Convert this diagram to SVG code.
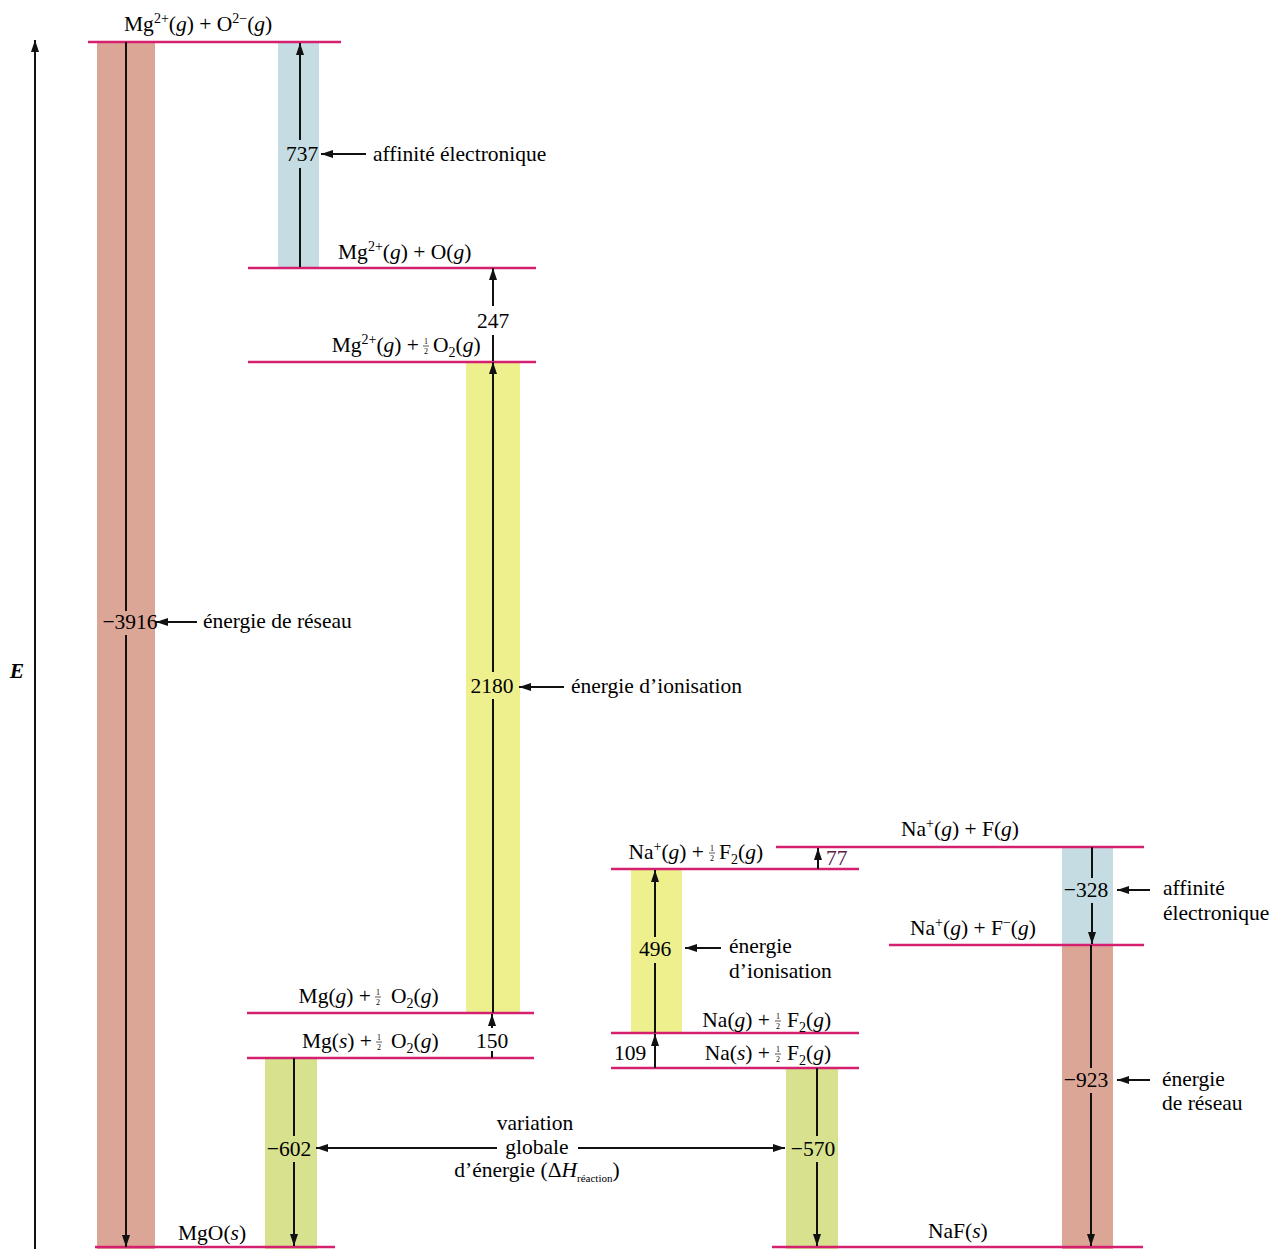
<svg xmlns="http://www.w3.org/2000/svg" width="1271" height="1249" viewBox="0 0 1271 1249">
<style>
text{font-family:"Liberation Serif","Times New Roman",serif;font-size:21.5px;fill:#000}
.it{font-style:italic}
.sup{font-size:14px}
.sub{font-size:14px}
.fr{font-size:8px;text-anchor:middle}
.lvl{stroke:#d4206f;stroke-width:2.5;fill:none}
.arr{stroke:#111;stroke-width:2;fill:none}
.bar-pink{fill:#dca696}
.bar-blue{fill:#c6dce3}
.bar-yel{fill:#eef08e}
.bar-grn{fill:#d7e18e}
.fb{stroke:#111;stroke-width:0.7}
</style>
<defs>
<marker id="ah" markerWidth="12" markerHeight="8" refX="12" refY="4" orient="auto" markerUnits="userSpaceOnUse"><path d="M0,0 L12,4 L0,8 z" fill="#111"/></marker>
</defs>

<!-- background bars -->
<g id="bars">
<rect class="bar-pink" x="97" y="42" width="58" height="1207"/>
<rect class="bar-blue" x="278" y="42" width="41" height="225"/>
<rect class="bar-yel" x="466" y="361" width="54" height="652"/>
<rect class="bar-grn" x="265" y="1058" width="52" height="191"/>
<rect class="bar-yel" x="631" y="869" width="51" height="164"/>
<rect class="bar-grn" x="786" y="1068" width="52" height="181"/>
<rect class="bar-blue" x="1062" y="847" width="51" height="98"/>
<rect class="bar-pink" x="1062" y="945" width="51" height="304"/>
</g>

<!-- energy axis -->
<g id="axis">
<line class="arr" x1="35" y1="1249" x2="35" y2="40" stroke-width="2.5" marker-end="url(#ah)"/>
<text x="17" y="678" text-anchor="middle" class="it" font-weight="bold">E</text>
</g>

<!-- levels -->
<g id="lvl-mg2-o2m">
<line class="lvl" x1="88" y1="42" x2="341" y2="42"/>
<text x="124" y="31">Mg<tspan class="sup" dy="-8">2+</tspan><tspan dy="8">(</tspan><tspan class="it">g</tspan>) + O<tspan class="sup" dy="-8">2−</tspan><tspan dy="8">(</tspan><tspan class="it">g</tspan>)</text>
</g>
<g id="lvl-mg2-o">
<line class="lvl" x1="248" y1="268" x2="536" y2="268"/>
<text x="338" y="259">Mg<tspan class="sup" dy="-8">2+</tspan><tspan dy="8">(</tspan><tspan class="it">g</tspan>) + O(<tspan class="it">g</tspan>)</text>
</g>
<g id="lvl-mg2-halfo2">
<line class="lvl" x1="248" y1="362" x2="536" y2="362"/>
<text x="419" y="352" text-anchor="end">Mg<tspan class="sup" dy="-8">2+</tspan><tspan dy="8">(</tspan><tspan class="it">g</tspan>) +</text>
<text class="fr" x="426" y="344">1</text><line class="fb" x1="423" y1="346" x2="429" y2="346"/><text class="fr" x="426" y="353.5">2</text>
<text x="433" y="352">O<tspan class="sub" dy="5">2</tspan><tspan dy="-5">(</tspan><tspan class="it">g</tspan>)</text>
</g>
<g id="lvl-mgg">
<line class="lvl" x1="247" y1="1013" x2="534" y2="1013"/>
<text x="371" y="1003" text-anchor="end">Mg(<tspan class="it">g</tspan>) +</text>
<text class="fr" x="378" y="995">1</text><line class="fb" x1="375" y1="997" x2="381" y2="997"/><text class="fr" x="378" y="1004.5">2</text>
<text x="391" y="1003">O<tspan class="sub" dy="5">2</tspan><tspan dy="-5">(</tspan><tspan class="it">g</tspan>)</text>
</g>
<g id="lvl-mgs">
<line class="lvl" x1="247" y1="1058" x2="534" y2="1058"/>
<text x="372" y="1048" text-anchor="end">Mg(<tspan class="it">s</tspan>) +</text>
<text class="fr" x="379" y="1040">1</text><line class="fb" x1="376" y1="1042" x2="382" y2="1042"/><text class="fr" x="379" y="1049.5">2</text>
<text x="391" y="1048">O<tspan class="sub" dy="5">2</tspan><tspan dy="-5">(</tspan><tspan class="it">g</tspan>)</text>
</g>
<g id="lvl-mgo">
<line class="lvl" x1="95" y1="1247" x2="335" y2="1247"/>
<text x="178" y="1240">MgO(<tspan class="it">s</tspan>)</text>
</g>
<g id="lvl-na-halff2">
<line class="lvl" x1="611" y1="869" x2="859" y2="869"/>
<text x="704" y="859" text-anchor="end">Na<tspan class="sup" dy="-8">+</tspan><tspan dy="8">(</tspan><tspan class="it">g</tspan>) +</text>
<text class="fr" x="712" y="851">1</text><line class="fb" x1="709" y1="853" x2="715" y2="853"/><text class="fr" x="712" y="860.5">2</text>
<text x="719" y="859">F<tspan class="sub" dy="5">2</tspan><tspan dy="-5">(</tspan><tspan class="it">g</tspan>)</text>
</g>
<g id="lvl-na-f">
<line class="lvl" x1="776" y1="847" x2="1144" y2="847"/>
<text x="901" y="836">Na<tspan class="sup" dy="-8">+</tspan><tspan dy="8">(</tspan><tspan class="it">g</tspan>) + F(<tspan class="it">g</tspan>)</text>
</g>
<g id="lvl-na-fm">
<line class="lvl" x1="889" y1="945" x2="1144" y2="945"/>
<text x="910" y="935">Na<tspan class="sup" dy="-8">+</tspan><tspan dy="8">(</tspan><tspan class="it">g</tspan>) + F<tspan class="sup" dy="-8">−</tspan><tspan dy="8">(</tspan><tspan class="it">g</tspan>)</text>
</g>
<g id="lvl-nag">
<line class="lvl" x1="611" y1="1033" x2="859" y2="1033"/>
<text x="770" y="1027" text-anchor="end">Na(<tspan class="it">g</tspan>) +</text>
<text class="fr" x="778" y="1019">1</text><line class="fb" x1="775" y1="1021" x2="781" y2="1021"/><text class="fr" x="778" y="1028.5">2</text>
<text x="787" y="1027">F<tspan class="sub" dy="5">2</tspan><tspan dy="-5">(</tspan><tspan class="it">g</tspan>)</text>
</g>
<g id="lvl-nas">
<line class="lvl" x1="611" y1="1068" x2="859" y2="1068"/>
<text x="770" y="1060" text-anchor="end">Na(<tspan class="it">s</tspan>) +</text>
<text class="fr" x="778" y="1052">1</text><line class="fb" x1="775" y1="1054" x2="781" y2="1054"/><text class="fr" x="778" y="1061.5">2</text>
<text x="787" y="1060">F<tspan class="sub" dy="5">2</tspan><tspan dy="-5">(</tspan><tspan class="it">g</tspan>)</text>
</g>
<g id="lvl-naf">
<line class="lvl" x1="772" y1="1247" x2="1143" y2="1247"/>
<text x="928" y="1238">NaF(<tspan class="it">s</tspan>)</text>
</g>

<!-- connectors -->
<g id="connectors">
<line class="arr" x1="126" y1="42" x2="126" y2="611"/>
<line class="arr" x1="126" y1="635" x2="126" y2="1247" marker-end="url(#ah)"/>
<line class="arr" x1="300" y1="267" x2="300" y2="168"/>
<line class="arr" x1="300" y1="140" x2="300" y2="43" marker-end="url(#ah)"/>
<line class="arr" x1="493" y1="306" x2="493" y2="268" marker-end="url(#ah)"/>
<line class="arr" x1="493" y1="335" x2="493" y2="361"/>
<line class="arr" x1="493" y1="1013" x2="493" y2="699"/>
<line class="arr" x1="493" y1="672" x2="493" y2="362" marker-end="url(#ah)"/>
<line class="arr" x1="492" y1="1028" x2="492" y2="1014" marker-end="url(#ah)"/>
<line class="arr" x1="492" y1="1051" x2="492" y2="1058"/>
<line class="arr" x1="294" y1="1058" x2="294" y2="1136"/>
<line class="arr" x1="294" y1="1162" x2="294" y2="1246" marker-end="url(#ah)"/>
<line class="arr" x1="817" y1="1068" x2="817" y2="1136"/>
<line class="arr" x1="817" y1="1162" x2="817" y2="1246" marker-end="url(#ah)"/>
<line class="arr" x1="655" y1="1068" x2="655" y2="1034" marker-end="url(#ah)"/>
<line class="arr" x1="655" y1="1033" x2="655" y2="963"/>
<line class="arr" x1="655" y1="937" x2="655" y2="870" marker-end="url(#ah)"/>
<line class="arr" x1="818" y1="869" x2="818" y2="848" stroke="#3a1a2a" marker-end="url(#ah)"/>
<line class="arr" x1="1092" y1="847" x2="1092" y2="878"/>
<line class="arr" x1="1092" y1="903" x2="1092" y2="944" marker-end="url(#ah)"/>
<line class="arr" x1="1091" y1="945" x2="1091" y2="1068"/>
<line class="arr" x1="1091" y1="1093" x2="1091" y2="1246" marker-end="url(#ah)"/>
<line class="arr" x1="366" y1="154" x2="321" y2="154" marker-end="url(#ah)"/>
<line class="arr" x1="197" y1="622" x2="156" y2="622" marker-end="url(#ah)"/>
<line class="arr" x1="564" y1="687" x2="519" y2="687" marker-end="url(#ah)"/>
<line class="arr" x1="721" y1="948" x2="685" y2="948" marker-end="url(#ah)"/>
<line class="arr" x1="1150" y1="890" x2="1117" y2="890" marker-end="url(#ah)"/>
<line class="arr" x1="1150" y1="1080" x2="1117" y2="1080" marker-end="url(#ah)"/>
<line class="arr" x1="497" y1="1148" x2="316" y2="1148" marker-end="url(#ah)"/>
<line class="arr" x1="578" y1="1148" x2="785" y2="1148" marker-end="url(#ah)"/>
</g>

<!-- value labels -->
<g id="labels">
<text x="302" y="161" text-anchor="middle">737</text>
<text x="373" y="161">affinité électronique</text>
<text x="130" y="629" text-anchor="middle">−3916</text>
<text x="203" y="628">énergie de réseau</text>
<text x="492" y="693" text-anchor="middle">2180</text>
<text x="571" y="693">énergie d’ionisation</text>
<text x="493" y="328" text-anchor="middle">247</text>
<text x="492" y="1048" text-anchor="middle">150</text>
<text x="289" y="1156" text-anchor="middle">−602</text>
<text x="813" y="1156" text-anchor="middle">−570</text>
<text x="655" y="956" text-anchor="middle">496</text>
<text x="729" y="953">énergie</text>
<text x="729" y="978">d’ionisation</text>
<text x="630" y="1060" text-anchor="middle">109</text>
<text x="826" y="865" style="fill:#5a2046">77</text>
<text x="1086" y="897" text-anchor="middle">−328</text>
<text x="1163" y="895">affinité</text>
<text x="1163" y="920">électronique</text>
<text x="1086" y="1087" text-anchor="middle">−923</text>
<text x="1162" y="1086">énergie</text>
<text x="1162" y="1110">de réseau</text>
<text x="535" y="1130" text-anchor="middle">variation</text>
<text x="537" y="1154" text-anchor="middle">globale</text>
<text x="537" y="1177" text-anchor="middle">d’énergie (Δ<tspan class="it">H</tspan><tspan font-size="11" dy="5">réaction</tspan><tspan dy="-5">)</tspan></text>
</g>
</svg>
